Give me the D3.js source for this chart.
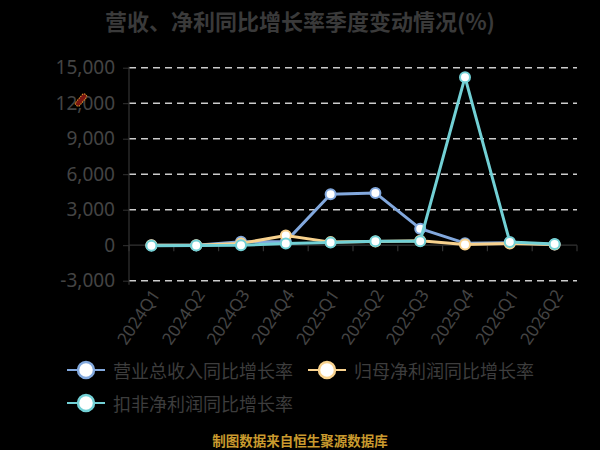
<!DOCTYPE html>
<html><head><meta charset="utf-8">
<script src="https://cdn.jsdelivr.net/npm/d3@7"></script>
<style>html,body{margin:0;padding:0;background:#000;}svg{display:block;}</style>
</head><body>
<script>
const categories = ["2024Q1","2024Q2","2024Q3","2024Q4","2025Q1","2025Q2","2025Q3","2025Q4","2026Q1","2026Q2"];
const revenueGrowth = [0, 0, 300, 300, 4300, 4420, 1400, 170, 200, 50];
const netProfitGrowth = [0, 0, 150, 820, 260, 320, 380, 50, 150, 50];
const deductedProfitGrowth = [-40, -30, 0, 140, 230, 340, 340, 14200, 280, 100];
const yTicks = [-3000, 0, 3000, 6000, 9000, 12000, 15000];
const seriesNames = ["营业总收入同比增长率","归母净利润同比增长率","扣非净利润同比增长率"];
const seriesColors = ["#82a8dd","#f8d28e","#72d0d5"];

const W = 600, H = 450;
const svg = d3.select("body").append("svg").attr("width", W).attr("height", H);
svg.append("rect").attr("width", W).attr("height", H).attr("fill", "#000");

const cjk = "'Noto Sans CJK SC','Noto Sans',sans-serif";
const x = d3.scaleBand().domain(categories).range([129, 577]);
const y = d3.scaleLinear().domain([-3000, 15000]).range([280.7, 67.7]);

// title
svg.append("text").attr("x", 300).attr("y", 20).attr("text-anchor", "middle")
  .attr("dominant-baseline", "central").attr("font-family", cjk).attr("font-weight", "bold")
  .attr("font-size", 22).attr("fill", "#3a3a3a").text("营收、净利同比增长率季度变动情况(%)");

// gridlines
svg.append("g").selectAll("line").data(yTicks.filter(d => d !== 0)).join("line")
  .attr("x1", 129).attr("x2", 577).attr("y1", d => y(d)).attr("y2", d => y(d))
  .attr("stroke", "#cccccc").attr("stroke-width", 1.6).attr("stroke-dasharray", "7,5");

// y axis
const fmt = d3.format(",");
const yAxis = svg.append("g").attr("transform", "translate(129,0)")
  .call(d3.axisLeft(y).tickValues(yTicks).tickFormat(d => fmt(d).replace("−", "-")).tickSize(6).tickPadding(8));
yAxis.select(".domain").attr("stroke", "#333").attr("stroke-width", 1.2);
yAxis.selectAll(".tick line").attr("stroke", "#333");
yAxis.selectAll("text").attr("font-family", "'Noto Sans',sans-serif").attr("font-size", 19).attr("fill", "#444");
yAxis.select(".domain").attr("d", `M0,${y(15000)-1}V${y(-3000)+4}`);

// x axis at zero
const xAxis = svg.append("g").attr("transform", `translate(0,${y(0)})`)
  .call(d3.axisBottom(x).tickSize(0).tickFormat(""));
xAxis.select(".domain").attr("stroke", "#333").attr("stroke-width", 1.2).attr("d", `M129,0H577`);
svg.append("g").selectAll("line").data(d3.range(categories.length + 1)).join("line")
  .attr("x1", i => 129 + i * x.step()).attr("x2", i => 129 + i * x.step())
  .attr("y1", y(0)).attr("y2", y(0) + 6).attr("stroke", "#333").attr("stroke-width", 1.2);

// x labels
svg.append("g").selectAll("text").data(categories).join("text")
  .attr("transform", d => `translate(${x(d) + x.bandwidth() / 2 + 4},${291}) rotate(-56)`)
  .attr("text-anchor", "end").attr("dominant-baseline", "central")
  .attr("font-family", "'Noto Sans',sans-serif").attr("font-size", 17).attr("fill", "#444")
  .text(d => d);

// series
const allSeries = [revenueGrowth, netProfitGrowth, deductedProfitGrowth];
const line = d3.line().x((d, i) => x(categories[i]) + x.bandwidth() / 2).y(d => y(d));
allSeries.forEach((vals, si) => {
  const g = svg.append("g");
  g.append("path").datum(vals).attr("d", line).attr("fill", "none")
    .attr("stroke", seriesColors[si]).attr("stroke-width", 3).attr("stroke-linejoin", "round");
  g.selectAll("circle").data(vals).join("circle")
    .attr("cx", (d, i) => x(categories[i]) + x.bandwidth() / 2).attr("cy", d => y(d))
    .attr("r", 5).attr("fill", "#fff").attr("stroke", seriesColors[si]).attr("stroke-width", 2);
});

// small icon
const icon = svg.append("g").attr("transform", "translate(81,100) rotate(-50)");
icon.append("rect").attr("x", -7).attr("y", -2.5).attr("width", 14).attr("height", 5).attr("rx", 1.5)
  .attr("fill", "#7a1410").attr("stroke", "#e09a30").attr("stroke-width", 1).attr("stroke-dasharray", "1.5,1");

// legend
const legendPos = [[67, 370], [308, 370], [67, 403]];
seriesNames.forEach((name, i) => {
  const [lx, ly] = legendPos[i];
  const g = svg.append("g");
  g.append("line").attr("x1", lx).attr("x2", lx + 38).attr("y1", ly).attr("y2", ly)
    .attr("stroke", seriesColors[i]).attr("stroke-width", 2);
  g.append("circle").attr("cx", lx + 19).attr("cy", ly).attr("r", 8)
    .attr("fill", "#fff").attr("stroke", seriesColors[i]).attr("stroke-width", 2.5);
  g.append("text").attr("x", lx + 46).attr("y", ly).attr("dominant-baseline", "central")
    .attr("font-family", cjk).attr("font-size", 18).attr("fill", "#3d3d3d").text(name);
});

// source
svg.append("text").attr("x", 300).attr("y", 440).attr("text-anchor", "middle")
  .attr("dominant-baseline", "central").attr("font-family", cjk).attr("font-weight", "bold")
  .attr("font-size", 13.5).attr("fill", "#c99a2e").text("制图数据来自恒生聚源数据库");
</script>
</body></html>
